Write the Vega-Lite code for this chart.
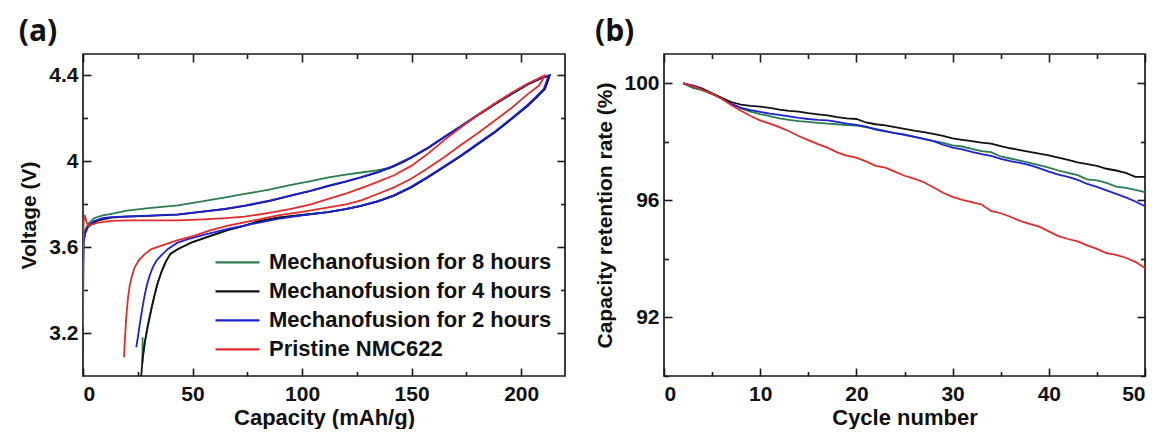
{
"$schema": "https://vega.github.io/schema/vega-lite/v6.json",
"padding": {"left": 17, "top": 16, "right": 5, "bottom": 0},
"background": "white",
"spacing": 27,
"config": {
  "font": "Liberation Sans",
  "view": {"stroke": "#1a1a1a", "strokeWidth": 1.7},
  "axis": {"domain": false, "grid": false, "labelFont": "Liberation Sans", "labelFontWeight": "bold", "labelFontSize": 21, "labelColor": "#111111", "titleFont": "Liberation Sans", "titleFontWeight": "bold", "titleFontSize": 21, "titleColor": "#111111", "tickColor": "#1a1a1a", "tickWidth": 1.6},
  "title": {"font": "Open Sans", "fontWeight": "bold", "fontSize": 30, "color": "#111111", "anchor": "start", "frame": "bounds", "offset": 6}
},
"datasets": {
"va": [
{"s":"Mechanofusion for 8 hours","i":0,"c":0,"v":3.6},{"s":"Mechanofusion for 8 hours","i":1,"c":0.3,"v":3.65},{"s":"Mechanofusion for 8 hours","i":2,"c":1,"v":3.68},{"s":"Mechanofusion for 8 hours","i":3,"c":2.5,"v":3.71},{"s":"Mechanofusion for 8 hours","i":4,"c":5,"v":3.735},{"s":"Mechanofusion for 8 hours","i":5,"c":9,"v":3.748},{"s":"Mechanofusion for 8 hours","i":6,"c":12.9,"v":3.755},{"s":"Mechanofusion for 8 hours","i":7,"c":20,"v":3.77},{"s":"Mechanofusion for 8 hours","i":8,"c":30,"v":3.782},{"s":"Mechanofusion for 8 hours","i":9,"c":43.4,"v":3.795},{"s":"Mechanofusion for 8 hours","i":10,"c":55,"v":3.815},{"s":"Mechanofusion for 8 hours","i":11,"c":65,"v":3.832},{"s":"Mechanofusion for 8 hours","i":12,"c":73.8,"v":3.848},{"s":"Mechanofusion for 8 hours","i":13,"c":85,"v":3.868},{"s":"Mechanofusion for 8 hours","i":14,"c":95,"v":3.89},{"s":"Mechanofusion for 8 hours","i":15,"c":104,"v":3.908},{"s":"Mechanofusion for 8 hours","i":16,"c":112,"v":3.925},{"s":"Mechanofusion for 8 hours","i":17,"c":120,"v":3.938},{"s":"Mechanofusion for 8 hours","i":18,"c":127,"v":3.948},{"s":"Mechanofusion for 8 hours","i":19,"c":134,"v":3.958},{"s":"Mechanofusion for 8 hours","i":20,"c":140,"v":3.97},{"s":"Mechanofusion for 8 hours","i":21,"c":146,"v":3.995},{"s":"Mechanofusion for 8 hours","i":22,"c":150,"v":4.018},{"s":"Mechanofusion for 8 hours","i":23,"c":157.5,"v":4.062},{"s":"Mechanofusion for 8 hours","i":24,"c":165,"v":4.113},{"s":"Mechanofusion for 8 hours","i":25,"c":172.7,"v":4.164},{"s":"Mechanofusion for 8 hours","i":26,"c":180,"v":4.214},{"s":"Mechanofusion for 8 hours","i":27,"c":188,"v":4.266},{"s":"Mechanofusion for 8 hours","i":28,"c":196,"v":4.316},{"s":"Mechanofusion for 8 hours","i":29,"c":203,"v":4.358},{"s":"Mechanofusion for 8 hours","i":30,"c":209,"v":4.386},{"s":"Mechanofusion for 8 hours","i":31,"c":213,"v":4.4},{"s":"Mechanofusion for 8 hours","i":32,"c":212,"v":4.37},{"s":"Mechanofusion for 8 hours","i":33,"c":210.8,"v":4.337},{"s":"Mechanofusion for 8 hours","i":34,"c":207,"v":4.298},{"s":"Mechanofusion for 8 hours","i":35,"c":203,"v":4.259},{"s":"Mechanofusion for 8 hours","i":36,"c":196,"v":4.2},{"s":"Mechanofusion for 8 hours","i":37,"c":188,"v":4.135},{"s":"Mechanofusion for 8 hours","i":38,"c":180,"v":4.078},{"s":"Mechanofusion for 8 hours","i":39,"c":172.7,"v":4.026},{"s":"Mechanofusion for 8 hours","i":40,"c":165,"v":3.975},{"s":"Mechanofusion for 8 hours","i":41,"c":157.5,"v":3.926},{"s":"Mechanofusion for 8 hours","i":42,"c":150,"v":3.88},{"s":"Mechanofusion for 8 hours","i":43,"c":142,"v":3.84},{"s":"Mechanofusion for 8 hours","i":44,"c":135,"v":3.815},{"s":"Mechanofusion for 8 hours","i":45,"c":127,"v":3.793},{"s":"Mechanofusion for 8 hours","i":46,"c":120,"v":3.777},{"s":"Mechanofusion for 8 hours","i":47,"c":112,"v":3.763},{"s":"Mechanofusion for 8 hours","i":48,"c":100,"v":3.75},{"s":"Mechanofusion for 8 hours","i":49,"c":89,"v":3.738},{"s":"Mechanofusion for 8 hours","i":50,"c":80,"v":3.72},{"s":"Mechanofusion for 8 hours","i":51,"c":73.8,"v":3.7},{"s":"Mechanofusion for 8 hours","i":52,"c":66,"v":3.68},{"s":"Mechanofusion for 8 hours","i":53,"c":58.6,"v":3.654},{"s":"Mechanofusion for 8 hours","i":54,"c":50,"v":3.624},{"s":"Mechanofusion for 8 hours","i":55,"c":43.4,"v":3.592},{"s":"Mechanofusion for 8 hours","i":56,"c":40,"v":3.57},{"s":"Mechanofusion for 8 hours","i":57,"c":38,"v":3.537},{"s":"Mechanofusion for 8 hours","i":58,"c":36,"v":3.49},{"s":"Mechanofusion for 8 hours","i":59,"c":34.2,"v":3.437},{"s":"Mechanofusion for 8 hours","i":60,"c":32.6,"v":3.375},{"s":"Mechanofusion for 8 hours","i":61,"c":31.2,"v":3.312},{"s":"Mechanofusion for 8 hours","i":62,"c":29.6,"v":3.235},{"s":"Mechanofusion for 8 hours","i":63,"c":28.2,"v":3.157},{"s":"Mechanofusion for 8 hours","i":64,"c":27.5,"v":3.1},{"s":"Mechanofusion for 8 hours","i":65,"c":27.1,"v":3.06},{"s":"Mechanofusion for 8 hours","i":66,"c":27.2,"v":3.18},
{"s":"Mechanofusion for 4 hours","i":0,"c":0,"v":3.5},{"s":"Mechanofusion for 4 hours","i":1,"c":0.2,"v":3.62},{"s":"Mechanofusion for 4 hours","i":2,"c":0.8,"v":3.66},{"s":"Mechanofusion for 4 hours","i":3,"c":2,"v":3.69},{"s":"Mechanofusion for 4 hours","i":4,"c":4,"v":3.71},{"s":"Mechanofusion for 4 hours","i":5,"c":7,"v":3.725},{"s":"Mechanofusion for 4 hours","i":6,"c":12.9,"v":3.738},{"s":"Mechanofusion for 4 hours","i":7,"c":20,"v":3.742},{"s":"Mechanofusion for 4 hours","i":8,"c":30,"v":3.746},{"s":"Mechanofusion for 4 hours","i":9,"c":43.4,"v":3.752},{"s":"Mechanofusion for 4 hours","i":10,"c":55,"v":3.766},{"s":"Mechanofusion for 4 hours","i":11,"c":65,"v":3.778},{"s":"Mechanofusion for 4 hours","i":12,"c":73.8,"v":3.792},{"s":"Mechanofusion for 4 hours","i":13,"c":85,"v":3.815},{"s":"Mechanofusion for 4 hours","i":14,"c":95,"v":3.84},{"s":"Mechanofusion for 4 hours","i":15,"c":104,"v":3.862},{"s":"Mechanofusion for 4 hours","i":16,"c":112,"v":3.885},{"s":"Mechanofusion for 4 hours","i":17,"c":120,"v":3.905},{"s":"Mechanofusion for 4 hours","i":18,"c":127,"v":3.925},{"s":"Mechanofusion for 4 hours","i":19,"c":135,"v":3.95},{"s":"Mechanofusion for 4 hours","i":20,"c":142,"v":3.978},{"s":"Mechanofusion for 4 hours","i":21,"c":150,"v":4.018},{"s":"Mechanofusion for 4 hours","i":22,"c":157.5,"v":4.062},{"s":"Mechanofusion for 4 hours","i":23,"c":165,"v":4.113},{"s":"Mechanofusion for 4 hours","i":24,"c":172.7,"v":4.164},{"s":"Mechanofusion for 4 hours","i":25,"c":180,"v":4.214},{"s":"Mechanofusion for 4 hours","i":26,"c":188,"v":4.266},{"s":"Mechanofusion for 4 hours","i":27,"c":196,"v":4.316},{"s":"Mechanofusion for 4 hours","i":28,"c":203,"v":4.358},{"s":"Mechanofusion for 4 hours","i":29,"c":209,"v":4.386},{"s":"Mechanofusion for 4 hours","i":30,"c":213,"v":4.4},{"s":"Mechanofusion for 4 hours","i":31,"c":212,"v":4.37},{"s":"Mechanofusion for 4 hours","i":32,"c":210.8,"v":4.337},{"s":"Mechanofusion for 4 hours","i":33,"c":207,"v":4.298},{"s":"Mechanofusion for 4 hours","i":34,"c":203,"v":4.259},{"s":"Mechanofusion for 4 hours","i":35,"c":196,"v":4.2},{"s":"Mechanofusion for 4 hours","i":36,"c":188,"v":4.135},{"s":"Mechanofusion for 4 hours","i":37,"c":180,"v":4.078},{"s":"Mechanofusion for 4 hours","i":38,"c":172.7,"v":4.026},{"s":"Mechanofusion for 4 hours","i":39,"c":165,"v":3.975},{"s":"Mechanofusion for 4 hours","i":40,"c":157.5,"v":3.926},{"s":"Mechanofusion for 4 hours","i":41,"c":150,"v":3.88},{"s":"Mechanofusion for 4 hours","i":42,"c":142,"v":3.84},{"s":"Mechanofusion for 4 hours","i":43,"c":135,"v":3.815},{"s":"Mechanofusion for 4 hours","i":44,"c":127,"v":3.793},{"s":"Mechanofusion for 4 hours","i":45,"c":120,"v":3.777},{"s":"Mechanofusion for 4 hours","i":46,"c":112,"v":3.763},{"s":"Mechanofusion for 4 hours","i":47,"c":100,"v":3.75},{"s":"Mechanofusion for 4 hours","i":48,"c":89,"v":3.738},{"s":"Mechanofusion for 4 hours","i":49,"c":80,"v":3.72},{"s":"Mechanofusion for 4 hours","i":50,"c":73.8,"v":3.7},{"s":"Mechanofusion for 4 hours","i":51,"c":66,"v":3.68},{"s":"Mechanofusion for 4 hours","i":52,"c":58.6,"v":3.654},{"s":"Mechanofusion for 4 hours","i":53,"c":50,"v":3.624},{"s":"Mechanofusion for 4 hours","i":54,"c":43.4,"v":3.592},{"s":"Mechanofusion for 4 hours","i":55,"c":40,"v":3.57},{"s":"Mechanofusion for 4 hours","i":56,"c":38,"v":3.537},{"s":"Mechanofusion for 4 hours","i":57,"c":36,"v":3.49},{"s":"Mechanofusion for 4 hours","i":58,"c":34.2,"v":3.437},{"s":"Mechanofusion for 4 hours","i":59,"c":32.6,"v":3.375},{"s":"Mechanofusion for 4 hours","i":60,"c":31.2,"v":3.312},{"s":"Mechanofusion for 4 hours","i":61,"c":29.6,"v":3.235},{"s":"Mechanofusion for 4 hours","i":62,"c":28.2,"v":3.157},{"s":"Mechanofusion for 4 hours","i":63,"c":27.2,"v":3.08},{"s":"Mechanofusion for 4 hours","i":64,"c":26.5,"v":2.99},
{"s":"Mechanofusion for 2 hours","i":0,"c":0,"v":3.12},{"s":"Mechanofusion for 2 hours","i":1,"c":0.1,"v":3.4},{"s":"Mechanofusion for 2 hours","i":2,"c":0.3,"v":3.62},{"s":"Mechanofusion for 2 hours","i":3,"c":1,"v":3.665},{"s":"Mechanofusion for 2 hours","i":4,"c":2.5,"v":3.7},{"s":"Mechanofusion for 2 hours","i":5,"c":5,"v":3.722},{"s":"Mechanofusion for 2 hours","i":6,"c":9,"v":3.735},{"s":"Mechanofusion for 2 hours","i":7,"c":12.9,"v":3.74},{"s":"Mechanofusion for 2 hours","i":8,"c":20,"v":3.743},{"s":"Mechanofusion for 2 hours","i":9,"c":30,"v":3.747},{"s":"Mechanofusion for 2 hours","i":10,"c":43.4,"v":3.753},{"s":"Mechanofusion for 2 hours","i":11,"c":55,"v":3.767},{"s":"Mechanofusion for 2 hours","i":12,"c":65,"v":3.779},{"s":"Mechanofusion for 2 hours","i":13,"c":73.8,"v":3.794},{"s":"Mechanofusion for 2 hours","i":14,"c":85,"v":3.817},{"s":"Mechanofusion for 2 hours","i":15,"c":95,"v":3.842},{"s":"Mechanofusion for 2 hours","i":16,"c":104,"v":3.864},{"s":"Mechanofusion for 2 hours","i":17,"c":112,"v":3.887},{"s":"Mechanofusion for 2 hours","i":18,"c":120,"v":3.907},{"s":"Mechanofusion for 2 hours","i":19,"c":127,"v":3.927},{"s":"Mechanofusion for 2 hours","i":20,"c":135,"v":3.952},{"s":"Mechanofusion for 2 hours","i":21,"c":142,"v":3.98},{"s":"Mechanofusion for 2 hours","i":22,"c":150,"v":4.02},{"s":"Mechanofusion for 2 hours","i":23,"c":157.5,"v":4.064},{"s":"Mechanofusion for 2 hours","i":24,"c":165,"v":4.115},{"s":"Mechanofusion for 2 hours","i":25,"c":172.7,"v":4.166},{"s":"Mechanofusion for 2 hours","i":26,"c":180,"v":4.216},{"s":"Mechanofusion for 2 hours","i":27,"c":188,"v":4.268},{"s":"Mechanofusion for 2 hours","i":28,"c":196,"v":4.318},{"s":"Mechanofusion for 2 hours","i":29,"c":203,"v":4.36},{"s":"Mechanofusion for 2 hours","i":30,"c":209,"v":4.388},{"s":"Mechanofusion for 2 hours","i":31,"c":212.5,"v":4.4},{"s":"Mechanofusion for 2 hours","i":32,"c":211.5,"v":4.37},{"s":"Mechanofusion for 2 hours","i":33,"c":210.3,"v":4.337},{"s":"Mechanofusion for 2 hours","i":34,"c":206.5,"v":4.298},{"s":"Mechanofusion for 2 hours","i":35,"c":202.5,"v":4.259},{"s":"Mechanofusion for 2 hours","i":36,"c":195.5,"v":4.2},{"s":"Mechanofusion for 2 hours","i":37,"c":187.5,"v":4.135},{"s":"Mechanofusion for 2 hours","i":38,"c":179.5,"v":4.078},{"s":"Mechanofusion for 2 hours","i":39,"c":172.2,"v":4.026},{"s":"Mechanofusion for 2 hours","i":40,"c":164.5,"v":3.975},{"s":"Mechanofusion for 2 hours","i":41,"c":157,"v":3.926},{"s":"Mechanofusion for 2 hours","i":42,"c":149.5,"v":3.88},{"s":"Mechanofusion for 2 hours","i":43,"c":141.5,"v":3.84},{"s":"Mechanofusion for 2 hours","i":44,"c":134.5,"v":3.815},{"s":"Mechanofusion for 2 hours","i":45,"c":126.5,"v":3.793},{"s":"Mechanofusion for 2 hours","i":46,"c":119.5,"v":3.777},{"s":"Mechanofusion for 2 hours","i":47,"c":111.5,"v":3.763},{"s":"Mechanofusion for 2 hours","i":48,"c":100,"v":3.748},{"s":"Mechanofusion for 2 hours","i":49,"c":89,"v":3.732},{"s":"Mechanofusion for 2 hours","i":50,"c":78,"v":3.71},{"s":"Mechanofusion for 2 hours","i":51,"c":66.2,"v":3.685},{"s":"Mechanofusion for 2 hours","i":52,"c":56,"v":3.66},{"s":"Mechanofusion for 2 hours","i":53,"c":47.9,"v":3.638},{"s":"Mechanofusion for 2 hours","i":54,"c":43,"v":3.62},{"s":"Mechanofusion for 2 hours","i":55,"c":38.8,"v":3.592},{"s":"Mechanofusion for 2 hours","i":56,"c":35.5,"v":3.56},{"s":"Mechanofusion for 2 hours","i":57,"c":33.5,"v":3.537},{"s":"Mechanofusion for 2 hours","i":58,"c":31.8,"v":3.505},{"s":"Mechanofusion for 2 hours","i":59,"c":30.4,"v":3.467},{"s":"Mechanofusion for 2 hours","i":60,"c":29.2,"v":3.425},{"s":"Mechanofusion for 2 hours","i":61,"c":28.1,"v":3.374},{"s":"Mechanofusion for 2 hours","i":62,"c":27,"v":3.31},{"s":"Mechanofusion for 2 hours","i":63,"c":25.8,"v":3.234},{"s":"Mechanofusion for 2 hours","i":64,"c":24.9,"v":3.17},{"s":"Mechanofusion for 2 hours","i":65,"c":24.3,"v":3.134},
{"s":"Pristine NMC622","i":0,"c":0,"v":3.23},{"s":"Pristine NMC622","i":1,"c":0.1,"v":3.6},{"s":"Pristine NMC622","i":2,"c":0.3,"v":3.72},{"s":"Pristine NMC622","i":3,"c":0.8,"v":3.75},{"s":"Pristine NMC622","i":4,"c":1.5,"v":3.72},{"s":"Pristine NMC622","i":5,"c":2.5,"v":3.7},{"s":"Pristine NMC622","i":6,"c":4,"v":3.705},{"s":"Pristine NMC622","i":7,"c":7,"v":3.715},{"s":"Pristine NMC622","i":8,"c":12.9,"v":3.723},{"s":"Pristine NMC622","i":9,"c":20,"v":3.725},{"s":"Pristine NMC622","i":10,"c":30,"v":3.725},{"s":"Pristine NMC622","i":11,"c":43.4,"v":3.725},{"s":"Pristine NMC622","i":12,"c":55,"v":3.73},{"s":"Pristine NMC622","i":13,"c":65,"v":3.735},{"s":"Pristine NMC622","i":14,"c":73.8,"v":3.742},{"s":"Pristine NMC622","i":15,"c":85,"v":3.76},{"s":"Pristine NMC622","i":16,"c":95,"v":3.778},{"s":"Pristine NMC622","i":17,"c":104,"v":3.8},{"s":"Pristine NMC622","i":18,"c":112,"v":3.825},{"s":"Pristine NMC622","i":19,"c":121,"v":3.853},{"s":"Pristine NMC622","i":20,"c":131,"v":3.89},{"s":"Pristine NMC622","i":21,"c":142,"v":3.935},{"s":"Pristine NMC622","i":22,"c":150,"v":3.98},{"s":"Pristine NMC622","i":23,"c":157.5,"v":4.036},{"s":"Pristine NMC622","i":24,"c":165,"v":4.1},{"s":"Pristine NMC622","i":25,"c":172.7,"v":4.16},{"s":"Pristine NMC622","i":26,"c":180,"v":4.215},{"s":"Pristine NMC622","i":27,"c":188,"v":4.27},{"s":"Pristine NMC622","i":28,"c":196,"v":4.322},{"s":"Pristine NMC622","i":29,"c":203,"v":4.362},{"s":"Pristine NMC622","i":30,"c":207.5,"v":4.385},{"s":"Pristine NMC622","i":31,"c":210.5,"v":4.4},{"s":"Pristine NMC622","i":32,"c":209.8,"v":4.38},{"s":"Pristine NMC622","i":33,"c":208,"v":4.352},{"s":"Pristine NMC622","i":34,"c":203,"v":4.313},{"s":"Pristine NMC622","i":35,"c":196,"v":4.252},{"s":"Pristine NMC622","i":36,"c":188,"v":4.19},{"s":"Pristine NMC622","i":37,"c":180,"v":4.13},{"s":"Pristine NMC622","i":38,"c":172,"v":4.073},{"s":"Pristine NMC622","i":39,"c":165,"v":4.02},{"s":"Pristine NMC622","i":40,"c":157,"v":3.965},{"s":"Pristine NMC622","i":41,"c":150,"v":3.92},{"s":"Pristine NMC622","i":42,"c":142,"v":3.879},{"s":"Pristine NMC622","i":43,"c":135,"v":3.85},{"s":"Pristine NMC622","i":44,"c":127,"v":3.818},{"s":"Pristine NMC622","i":45,"c":120,"v":3.8},{"s":"Pristine NMC622","i":46,"c":112,"v":3.786},{"s":"Pristine NMC622","i":47,"c":100,"v":3.765},{"s":"Pristine NMC622","i":48,"c":89,"v":3.748},{"s":"Pristine NMC622","i":49,"c":78,"v":3.725},{"s":"Pristine NMC622","i":50,"c":66.2,"v":3.7},{"s":"Pristine NMC622","i":51,"c":58,"v":3.678},{"s":"Pristine NMC622","i":52,"c":51,"v":3.654},{"s":"Pristine NMC622","i":53,"c":43,"v":3.632},{"s":"Pristine NMC622","i":54,"c":35.8,"v":3.607},{"s":"Pristine NMC622","i":55,"c":31,"v":3.59},{"s":"Pristine NMC622","i":56,"c":28.2,"v":3.568},{"s":"Pristine NMC622","i":57,"c":25.5,"v":3.54},{"s":"Pristine NMC622","i":58,"c":23.6,"v":3.506},{"s":"Pristine NMC622","i":59,"c":22.3,"v":3.465},{"s":"Pristine NMC622","i":60,"c":21.3,"v":3.42},{"s":"Pristine NMC622","i":61,"c":20.5,"v":3.36},{"s":"Pristine NMC622","i":62,"c":19.8,"v":3.281},{"s":"Pristine NMC622","i":63,"c":19.2,"v":3.18},{"s":"Pristine NMC622","i":64,"c":18.7,"v":3.087}
],
"vb": [
{"s":"Mechanofusion for 8 hours","n":2,"r":100},{"s":"Mechanofusion for 8 hours","n":3,"r":99.84},{"s":"Mechanofusion for 8 hours","n":4,"r":99.76},{"s":"Mechanofusion for 8 hours","n":5,"r":99.63},{"s":"Mechanofusion for 8 hours","n":6,"r":99.48},{"s":"Mechanofusion for 8 hours","n":7,"r":99.3},{"s":"Mechanofusion for 8 hours","n":8,"r":99.14},{"s":"Mechanofusion for 8 hours","n":9,"r":99.03},{"s":"Mechanofusion for 8 hours","n":10,"r":98.95},{"s":"Mechanofusion for 8 hours","n":11,"r":98.88},{"s":"Mechanofusion for 8 hours","n":12,"r":98.8},{"s":"Mechanofusion for 8 hours","n":13,"r":98.75},{"s":"Mechanofusion for 8 hours","n":14,"r":98.71},{"s":"Mechanofusion for 8 hours","n":15,"r":98.68},{"s":"Mechanofusion for 8 hours","n":16,"r":98.65},{"s":"Mechanofusion for 8 hours","n":17,"r":98.62},{"s":"Mechanofusion for 8 hours","n":18,"r":98.6},{"s":"Mechanofusion for 8 hours","n":19,"r":98.57},{"s":"Mechanofusion for 8 hours","n":20,"r":98.55},{"s":"Mechanofusion for 8 hours","n":21,"r":98.5},{"s":"Mechanofusion for 8 hours","n":22,"r":98.44},{"s":"Mechanofusion for 8 hours","n":23,"r":98.37},{"s":"Mechanofusion for 8 hours","n":24,"r":98.3},{"s":"Mechanofusion for 8 hours","n":25,"r":98.25},{"s":"Mechanofusion for 8 hours","n":26,"r":98.18},{"s":"Mechanofusion for 8 hours","n":27,"r":98.1},{"s":"Mechanofusion for 8 hours","n":28,"r":98.03},{"s":"Mechanofusion for 8 hours","n":29,"r":97.96},{"s":"Mechanofusion for 8 hours","n":30,"r":97.88},{"s":"Mechanofusion for 8 hours","n":31,"r":97.84},{"s":"Mechanofusion for 8 hours","n":32,"r":97.76},{"s":"Mechanofusion for 8 hours","n":33,"r":97.68},{"s":"Mechanofusion for 8 hours","n":34,"r":97.65},{"s":"Mechanofusion for 8 hours","n":35,"r":97.5},{"s":"Mechanofusion for 8 hours","n":36,"r":97.43},{"s":"Mechanofusion for 8 hours","n":37,"r":97.36},{"s":"Mechanofusion for 8 hours","n":38,"r":97.28},{"s":"Mechanofusion for 8 hours","n":39,"r":97.2},{"s":"Mechanofusion for 8 hours","n":40,"r":97.12},{"s":"Mechanofusion for 8 hours","n":41,"r":97.02},{"s":"Mechanofusion for 8 hours","n":42,"r":96.94},{"s":"Mechanofusion for 8 hours","n":43,"r":96.86},{"s":"Mechanofusion for 8 hours","n":44,"r":96.72},{"s":"Mechanofusion for 8 hours","n":45,"r":96.68},{"s":"Mechanofusion for 8 hours","n":46,"r":96.6},{"s":"Mechanofusion for 8 hours","n":47,"r":96.47},{"s":"Mechanofusion for 8 hours","n":48,"r":96.43},{"s":"Mechanofusion for 8 hours","n":49,"r":96.36},{"s":"Mechanofusion for 8 hours","n":50,"r":96.28},
{"s":"Mechanofusion for 2 hours","n":2,"r":100},{"s":"Mechanofusion for 2 hours","n":3,"r":99.93},{"s":"Mechanofusion for 2 hours","n":4,"r":99.82},{"s":"Mechanofusion for 2 hours","n":5,"r":99.65},{"s":"Mechanofusion for 2 hours","n":6,"r":99.48},{"s":"Mechanofusion for 2 hours","n":7,"r":99.3},{"s":"Mechanofusion for 2 hours","n":8,"r":99.16},{"s":"Mechanofusion for 2 hours","n":9,"r":99.08},{"s":"Mechanofusion for 2 hours","n":10,"r":99.02},{"s":"Mechanofusion for 2 hours","n":11,"r":98.96},{"s":"Mechanofusion for 2 hours","n":12,"r":98.92},{"s":"Mechanofusion for 2 hours","n":13,"r":98.87},{"s":"Mechanofusion for 2 hours","n":14,"r":98.82},{"s":"Mechanofusion for 2 hours","n":15,"r":98.78},{"s":"Mechanofusion for 2 hours","n":16,"r":98.75},{"s":"Mechanofusion for 2 hours","n":17,"r":98.73},{"s":"Mechanofusion for 2 hours","n":18,"r":98.68},{"s":"Mechanofusion for 2 hours","n":19,"r":98.62},{"s":"Mechanofusion for 2 hours","n":20,"r":98.58},{"s":"Mechanofusion for 2 hours","n":21,"r":98.52},{"s":"Mechanofusion for 2 hours","n":22,"r":98.42},{"s":"Mechanofusion for 2 hours","n":23,"r":98.36},{"s":"Mechanofusion for 2 hours","n":24,"r":98.3},{"s":"Mechanofusion for 2 hours","n":25,"r":98.24},{"s":"Mechanofusion for 2 hours","n":26,"r":98.17},{"s":"Mechanofusion for 2 hours","n":27,"r":98.1},{"s":"Mechanofusion for 2 hours","n":28,"r":98.02},{"s":"Mechanofusion for 2 hours","n":29,"r":97.9},{"s":"Mechanofusion for 2 hours","n":30,"r":97.8},{"s":"Mechanofusion for 2 hours","n":31,"r":97.74},{"s":"Mechanofusion for 2 hours","n":32,"r":97.66},{"s":"Mechanofusion for 2 hours","n":33,"r":97.58},{"s":"Mechanofusion for 2 hours","n":34,"r":97.52},{"s":"Mechanofusion for 2 hours","n":35,"r":97.42},{"s":"Mechanofusion for 2 hours","n":36,"r":97.34},{"s":"Mechanofusion for 2 hours","n":37,"r":97.28},{"s":"Mechanofusion for 2 hours","n":38,"r":97.2},{"s":"Mechanofusion for 2 hours","n":39,"r":97.1},{"s":"Mechanofusion for 2 hours","n":40,"r":96.98},{"s":"Mechanofusion for 2 hours","n":41,"r":96.88},{"s":"Mechanofusion for 2 hours","n":42,"r":96.8},{"s":"Mechanofusion for 2 hours","n":43,"r":96.7},{"s":"Mechanofusion for 2 hours","n":44,"r":96.56},{"s":"Mechanofusion for 2 hours","n":45,"r":96.46},{"s":"Mechanofusion for 2 hours","n":46,"r":96.34},{"s":"Mechanofusion for 2 hours","n":47,"r":96.22},{"s":"Mechanofusion for 2 hours","n":48,"r":96.1},{"s":"Mechanofusion for 2 hours","n":49,"r":95.96},{"s":"Mechanofusion for 2 hours","n":50,"r":95.8},
{"s":"Mechanofusion for 4 hours","n":2,"r":100},{"s":"Mechanofusion for 4 hours","n":3,"r":99.9},{"s":"Mechanofusion for 4 hours","n":4,"r":99.8},{"s":"Mechanofusion for 4 hours","n":5,"r":99.66},{"s":"Mechanofusion for 4 hours","n":6,"r":99.5},{"s":"Mechanofusion for 4 hours","n":7,"r":99.36},{"s":"Mechanofusion for 4 hours","n":8,"r":99.27},{"s":"Mechanofusion for 4 hours","n":9,"r":99.23},{"s":"Mechanofusion for 4 hours","n":10,"r":99.2},{"s":"Mechanofusion for 4 hours","n":11,"r":99.16},{"s":"Mechanofusion for 4 hours","n":12,"r":99.1},{"s":"Mechanofusion for 4 hours","n":13,"r":99.06},{"s":"Mechanofusion for 4 hours","n":14,"r":99.03},{"s":"Mechanofusion for 4 hours","n":15,"r":98.98},{"s":"Mechanofusion for 4 hours","n":16,"r":98.94},{"s":"Mechanofusion for 4 hours","n":17,"r":98.9},{"s":"Mechanofusion for 4 hours","n":18,"r":98.84},{"s":"Mechanofusion for 4 hours","n":19,"r":98.8},{"s":"Mechanofusion for 4 hours","n":20,"r":98.78},{"s":"Mechanofusion for 4 hours","n":21,"r":98.66},{"s":"Mechanofusion for 4 hours","n":22,"r":98.6},{"s":"Mechanofusion for 4 hours","n":23,"r":98.56},{"s":"Mechanofusion for 4 hours","n":24,"r":98.5},{"s":"Mechanofusion for 4 hours","n":25,"r":98.44},{"s":"Mechanofusion for 4 hours","n":26,"r":98.38},{"s":"Mechanofusion for 4 hours","n":27,"r":98.33},{"s":"Mechanofusion for 4 hours","n":28,"r":98.27},{"s":"Mechanofusion for 4 hours","n":29,"r":98.2},{"s":"Mechanofusion for 4 hours","n":30,"r":98.12},{"s":"Mechanofusion for 4 hours","n":31,"r":98.07},{"s":"Mechanofusion for 4 hours","n":32,"r":98.02},{"s":"Mechanofusion for 4 hours","n":33,"r":97.97},{"s":"Mechanofusion for 4 hours","n":34,"r":97.94},{"s":"Mechanofusion for 4 hours","n":35,"r":97.85},{"s":"Mechanofusion for 4 hours","n":36,"r":97.78},{"s":"Mechanofusion for 4 hours","n":37,"r":97.72},{"s":"Mechanofusion for 4 hours","n":38,"r":97.66},{"s":"Mechanofusion for 4 hours","n":39,"r":97.6},{"s":"Mechanofusion for 4 hours","n":40,"r":97.54},{"s":"Mechanofusion for 4 hours","n":41,"r":97.46},{"s":"Mechanofusion for 4 hours","n":42,"r":97.38},{"s":"Mechanofusion for 4 hours","n":43,"r":97.3},{"s":"Mechanofusion for 4 hours","n":44,"r":97.24},{"s":"Mechanofusion for 4 hours","n":45,"r":97.18},{"s":"Mechanofusion for 4 hours","n":46,"r":97.08},{"s":"Mechanofusion for 4 hours","n":47,"r":97.02},{"s":"Mechanofusion for 4 hours","n":48,"r":96.94},{"s":"Mechanofusion for 4 hours","n":49,"r":96.8},{"s":"Mechanofusion for 4 hours","n":50,"r":96.8},
{"s":"Pristine NMC622","n":2,"r":100},{"s":"Pristine NMC622","n":3,"r":99.9},{"s":"Pristine NMC622","n":4,"r":99.78},{"s":"Pristine NMC622","n":5,"r":99.64},{"s":"Pristine NMC622","n":6,"r":99.47},{"s":"Pristine NMC622","n":7,"r":99.25},{"s":"Pristine NMC622","n":8,"r":99.06},{"s":"Pristine NMC622","n":9,"r":98.88},{"s":"Pristine NMC622","n":10,"r":98.73},{"s":"Pristine NMC622","n":11,"r":98.62},{"s":"Pristine NMC622","n":12,"r":98.5},{"s":"Pristine NMC622","n":13,"r":98.36},{"s":"Pristine NMC622","n":14,"r":98.2},{"s":"Pristine NMC622","n":15,"r":98.06},{"s":"Pristine NMC622","n":16,"r":97.92},{"s":"Pristine NMC622","n":17,"r":97.8},{"s":"Pristine NMC622","n":18,"r":97.64},{"s":"Pristine NMC622","n":19,"r":97.53},{"s":"Pristine NMC622","n":20,"r":97.46},{"s":"Pristine NMC622","n":21,"r":97.33},{"s":"Pristine NMC622","n":22,"r":97.18},{"s":"Pristine NMC622","n":23,"r":97.12},{"s":"Pristine NMC622","n":24,"r":96.98},{"s":"Pristine NMC622","n":25,"r":96.84},{"s":"Pristine NMC622","n":26,"r":96.74},{"s":"Pristine NMC622","n":27,"r":96.62},{"s":"Pristine NMC622","n":28,"r":96.45},{"s":"Pristine NMC622","n":29,"r":96.26},{"s":"Pristine NMC622","n":30,"r":96.12},{"s":"Pristine NMC622","n":31,"r":96.02},{"s":"Pristine NMC622","n":32,"r":95.94},{"s":"Pristine NMC622","n":33,"r":95.86},{"s":"Pristine NMC622","n":34,"r":95.64},{"s":"Pristine NMC622","n":35,"r":95.56},{"s":"Pristine NMC622","n":36,"r":95.44},{"s":"Pristine NMC622","n":37,"r":95.3},{"s":"Pristine NMC622","n":38,"r":95.2},{"s":"Pristine NMC622","n":39,"r":95.1},{"s":"Pristine NMC622","n":40,"r":94.94},{"s":"Pristine NMC622","n":41,"r":94.78},{"s":"Pristine NMC622","n":42,"r":94.68},{"s":"Pristine NMC622","n":43,"r":94.6},{"s":"Pristine NMC622","n":44,"r":94.46},{"s":"Pristine NMC622","n":45,"r":94.34},{"s":"Pristine NMC622","n":46,"r":94.2},{"s":"Pristine NMC622","n":47,"r":94.14},{"s":"Pristine NMC622","n":48,"r":94.04},{"s":"Pristine NMC622","n":49,"r":93.9},{"s":"Pristine NMC622","n":50,"r":93.69}
]
},
"hconcat": [
{
  "width": 482, "height": 322,
  "title": {"text": "(a)"},
  "data": {"name": "va"},
  "layer": [
    {
      "mark": {"type": "line", "strokeWidth": 1.8, "clip": true},
      "encoding": {
        "x": {"field": "c", "type": "quantitative", "scale": {"domain": [0, 220], "nice": false, "zero": false},
              "axis": {"orient": "bottom", "title": "Capacity (mAh/g)", "titleFontSize": 22, "values": [0,50,100,150,200], "ticks": false, "labelPadding": 7, "titlePadding": 3}},
        "y": {"field": "v", "type": "quantitative", "scale": {"domain": [3.0, 4.5], "nice": false, "zero": false},
              "axis": {"orient": "left", "title": "Voltage (V)", "values": [3.2,3.6,4.0,4.4], "format": "~g", "ticks": false, "labelPadding": 5, "titlePadding": 9}},
        "color": {"field": "s", "type": "nominal",
                  "scale": {"domain": ["Mechanofusion for 8 hours", "Mechanofusion for 4 hours", "Mechanofusion for 2 hours", "Pristine NMC622"], "range": ["#2a7d4f", "#111111", "#1e22d6", "#e42a2a"]},
                  "legend": {"orient": "none", "legendX": 131, "legendY": 195, "title": null, "symbolType": "stroke", "symbolSize": 1936, "symbolStrokeWidth": 2.2, "clipHeight": 26.6,
                             "labelFont": "Liberation Sans", "labelFontWeight": "bold", "labelFontSize": 22, "labelColor": "#111111", "labelOffset": 8, "rowPadding": 2, "labelLimit": 400}},
        "order": {"field": "i", "type": "quantitative"}
      }
    },
    {
      "mark": {"type": "line", "strokeOpacity": 0},
      "encoding": {
        "x": {"field": "c", "type": "quantitative", "scale": {"domain": [0, 220], "nice": false, "zero": false},
              "axis": {"orient": "bottom", "offset": -8, "tickSize": 8, "title": null, "labels": false, "values": [0,50,100,150,200]}},
        "y": {"field": "v", "type": "quantitative", "scale": {"domain": [3.0, 4.5], "nice": false, "zero": false},
              "axis": {"orient": "left", "offset": -8, "tickSize": 8, "title": null, "labels": false, "values": [3.2,3.6,4.0,4.4]}},
        "detail": {"field": "s", "type": "nominal"}
      }
    },
    {
      "mark": {"type": "line", "strokeOpacity": 0},
      "encoding": {
        "x": {"field": "c", "type": "quantitative", "scale": {"domain": [0, 220], "nice": false, "zero": false},
              "axis": {"orient": "bottom", "offset": -4.5, "tickSize": 4.5, "title": null, "labels": false, "values": [25,75,125,175]}},
        "y": {"field": "v", "type": "quantitative", "scale": {"domain": [3.0, 4.5], "nice": false, "zero": false},
              "axis": {"orient": "left", "offset": -4.5, "tickSize": 4.5, "title": null, "labels": false, "values": [3.4,3.8,4.2]}},
        "detail": {"field": "s", "type": "nominal"}
      }
    },
    {
      "mark": {"type": "line", "strokeOpacity": 0},
      "encoding": {
        "x": {"field": "c", "type": "quantitative", "scale": {"domain": [0, 220], "nice": false, "zero": false},
              "axis": {"orient": "top", "offset": -8, "tickSize": 8, "title": null, "labels": false, "values": [0,50,100,150,200]}},
        "y": {"field": "v", "type": "quantitative", "scale": {"domain": [3.0, 4.5], "nice": false, "zero": false},
              "axis": {"orient": "right", "offset": -8, "tickSize": 8, "title": null, "labels": false, "values": [3.2,3.6,4.0,4.4]}},
        "detail": {"field": "s", "type": "nominal"}
      }
    },
    {
      "mark": {"type": "line", "strokeOpacity": 0},
      "encoding": {
        "x": {"field": "c", "type": "quantitative", "scale": {"domain": [0, 220], "nice": false, "zero": false},
              "axis": {"orient": "top", "offset": -4.5, "tickSize": 4.5, "title": null, "labels": false, "values": [25,75,125,175]}},
        "y": {"field": "v", "type": "quantitative", "scale": {"domain": [3.0, 4.5], "nice": false, "zero": false},
              "axis": {"orient": "right", "offset": -4.5, "tickSize": 4.5, "title": null, "labels": false, "values": [3.4,3.8,4.2]}},
        "detail": {"field": "s", "type": "nominal"}
      }
    }
  ],
  "resolve": {"axis": {"x": "independent", "y": "independent"}}
},
{
  "width": 481, "height": 322,
  "title": {"text": "(b)"},
  "data": {"name": "vb"},
  "layer": [
    {
      "mark": {"type": "line", "strokeWidth": 1.8, "clip": true},
      "encoding": {
        "x": {"field": "n", "type": "quantitative", "scale": {"domain": [0, 50], "nice": false, "zero": false},
              "axis": {"orient": "bottom", "title": "Cycle number", "titleFontSize": 22, "values": [0,10,20,30,40,50], "ticks": false, "labelPadding": 7, "titlePadding": 3}},
        "y": {"field": "r", "type": "quantitative", "scale": {"domain": [90, 101], "nice": false, "zero": false},
              "axis": {"orient": "left", "title": "Capacity retention rate (%)", "values": [92,96,100], "ticks": false, "labelPadding": 5, "titlePadding": 8}},
        "color": {"field": "s", "type": "nominal",
                  "scale": {"domain": ["Mechanofusion for 8 hours", "Mechanofusion for 4 hours", "Mechanofusion for 2 hours", "Pristine NMC622"], "range": ["#2a7d4f", "#111111", "#1e22d6", "#e42a2a"]},
                  "legend": null},
        "order": {"field": "n", "type": "quantitative"}
      }
    },
    {
      "mark": {"type": "line", "strokeOpacity": 0},
      "encoding": {
        "x": {"field": "n", "type": "quantitative", "scale": {"domain": [0, 50], "nice": false, "zero": false},
              "axis": {"orient": "bottom", "offset": -8, "tickSize": 8, "title": null, "labels": false, "values": [0,10,20,30,40,50]}},
        "y": {"field": "r", "type": "quantitative", "scale": {"domain": [90, 101], "nice": false, "zero": false},
              "axis": {"orient": "left", "offset": -8, "tickSize": 8, "title": null, "labels": false, "values": [92,96,100]}},
        "detail": {"field": "s", "type": "nominal"}
      }
    },
    {
      "mark": {"type": "line", "strokeOpacity": 0},
      "encoding": {
        "x": {"field": "n", "type": "quantitative", "scale": {"domain": [0, 50], "nice": false, "zero": false},
              "axis": {"orient": "bottom", "offset": -4.5, "tickSize": 4.5, "title": null, "labels": false, "values": [5,15,25,35,45]}},
        "y": {"field": "r", "type": "quantitative", "scale": {"domain": [90, 101], "nice": false, "zero": false},
              "axis": {"orient": "left", "offset": -4.5, "tickSize": 4.5, "title": null, "labels": false, "values": [90,94,98]}},
        "detail": {"field": "s", "type": "nominal"}
      }
    },
    {
      "mark": {"type": "line", "strokeOpacity": 0},
      "encoding": {
        "x": {"field": "n", "type": "quantitative", "scale": {"domain": [0, 50], "nice": false, "zero": false},
              "axis": {"orient": "top", "offset": -8, "tickSize": 8, "title": null, "labels": false, "values": [0,10,20,30,40,50]}},
        "y": {"field": "r", "type": "quantitative", "scale": {"domain": [90, 101], "nice": false, "zero": false},
              "axis": {"orient": "right", "offset": -8, "tickSize": 8, "title": null, "labels": false, "values": [92,96,100]}},
        "detail": {"field": "s", "type": "nominal"}
      }
    },
    {
      "mark": {"type": "line", "strokeOpacity": 0},
      "encoding": {
        "x": {"field": "n", "type": "quantitative", "scale": {"domain": [0, 50], "nice": false, "zero": false},
              "axis": {"orient": "top", "offset": -4.5, "tickSize": 4.5, "title": null, "labels": false, "values": [5,15,25,35,45]}},
        "y": {"field": "r", "type": "quantitative", "scale": {"domain": [90, 101], "nice": false, "zero": false},
              "axis": {"orient": "right", "offset": -4.5, "tickSize": 4.5, "title": null, "labels": false, "values": [90,94,98]}},
        "detail": {"field": "s", "type": "nominal"}
      }
    }
  ],
  "resolve": {"axis": {"x": "independent", "y": "independent"}}
}
]
}
